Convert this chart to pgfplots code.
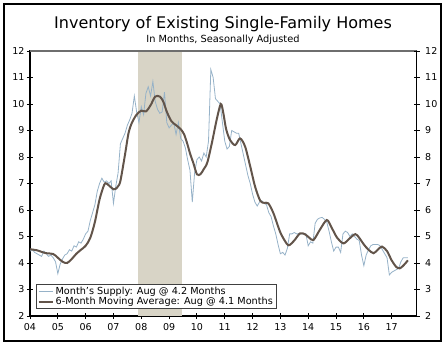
\documentclass[border=0pt]{standalone}
\usepackage{fontspec}
\setmainfont{DejaVu Sans}
\usepackage{pgfplots}
\usepackage{pgfplotstable}
\pgfplotsset{compat=1.18}
\definecolor{supply}{RGB}{150,178,200}
\definecolor{mavg}{RGB}{98,84,74}
\definecolor{recess}{RGB}{216,212,198}
\definecolor{topline}{RGB}{110,110,110}

\pgfplotstableread{
m v
0 4.45
1 4.5
2 4.4
3 4.35
4 4.3
5 4.25
6 4.45
7 4.35
8 4.25
9 4.3
10 4.2
11 4.05
12 3.6
13 3.95
14 4.15
15 4.3
16 4.35
17 4.5
18 4.45
19 4.65
20 4.6
21 4.8
22 4.75
23 4.9
24 5.1
25 5.2
26 5.6
27 5.9
28 6.2
29 6.7
30 7.0
31 7.2
32 7.05
33 7.1
34 7.0
35 7.1
36 6.25
37 6.9
38 7.4
39 8.5
40 8.7
41 8.9
42 9.2
43 9.4
44 9.65
45 10.3
46 9.7
47 9.3
48 9.9
49 9.6
50 10.4
51 10.65
52 10.3
53 10.85
54 10.1
55 9.8
56 9.65
57 9.7
58 10.45
59 9.3
60 9.1
61 9.2
62 9.3
63 8.85
64 9.3
65 8.7
66 8.6
67 8.35
68 7.9
69 7.5
70 6.3
71 7.4
72 7.9
73 8.0
74 7.85
75 8.15
76 8.0
77 8.6
78 11.3
79 11.0
80 10.2
81 10.1
82 10.0
83 9.3
84 8.6
85 8.3
86 8.4
87 9.0
88 8.95
89 8.9
90 8.9
91 8.5
92 8.1
93 7.7
94 7.3
95 7.0
96 6.6
97 6.3
98 6.15
99 6.3
100 6.35
101 6.25
102 6.2
103 5.9
104 5.75
105 5.4
106 5.1
107 4.7
108 4.35
109 4.4
110 4.3
111 4.55
112 5.1
113 5.1
114 5.15
115 5.1
116 5.1
117 5.1
118 5.1
119 5.1
120 4.65
121 4.8
122 4.75
123 5.5
124 5.65
125 5.7
126 5.72
127 5.65
128 5.55
129 5.2
130 4.8
131 4.45
132 4.6
133 4.6
134 4.4
135 5.1
136 5.2
137 5.15
138 5.0
139 5.1
140 5.0
141 4.9
142 4.85
143 4.3
144 3.9
145 4.3
146 4.5
147 4.65
148 4.7
149 4.7
150 4.7
151 4.65
152 4.5
153 4.35
154 4.2
155 3.55
156 3.65
157 3.7
158 3.75
159 3.8
160 4.05
161 4.2
162 4.2
163 4.2
}\supplytab

\pgfplotstableread{
m v
0 4.52
3 4.48
5 4.42
7 4.37
10 4.34
12 4.2
14 4.05
16 4.0
18 4.15
20 4.35
22 4.5
24 4.65
26 4.95
28 5.55
30 6.4
32 6.95
33 7.0
35 6.85
36 6.78
37 6.8
38 6.9
39 7.1
41 8.1
42.5 8.9
44 9.3
46 9.6
48 9.75
50 9.72
52 9.95
54 10.28
56 10.28
57.5 10.09
59 9.71
61 9.35
63 9.2
65 9.05
66.5 8.85
68 8.45
69 8.14
70.5 7.76
72 7.35
73.5 7.35
75 7.55
76.5 7.8
78.5 8.55
80.5 9.4
82.3 10.0
83.4 9.65
84.6 9.05
86.3 8.64
88.5 8.45
90.6 8.7
92.8 8.39
95 7.64
97.1 6.88
99.3 6.35
101 6.27
102.8 6.25
105 5.88
108 5.15
110.8 4.72
112 4.68
114 4.85
116.5 5.12
118.7 5.08
120.5 4.95
122.3 4.87
125 5.25
128 5.62
130 5.35
132.5 4.95
135.2 4.74
137.5 4.9
140.3 5.09
142 4.95
144 4.7
146 4.5
148.2 4.37
150 4.5
151.8 4.62
154 4.45
156 4.1
158 3.85
159.5 3.8
161 3.9
163 4.1
}\mavgtab

\begin{document}
\begin{tikzpicture}[x=1pt,y=1pt]
\path[use as bounding box] (0,0) rectangle (446,343);
\draw[black, line width=2.3pt] (4,2.3) rectangle (441,339);
\node[anchor=base, font=\fontsize{16}{18}\selectfont] at (223,314.2) {Inventory of Existing Single-Family Homes};
\node[anchor=base, font=\fontsize{9.8}{11}\selectfont] at (223,300.7) {In Months, Seasonally Adjusted};

\pgfplotsset{myaxis/.style={
  at={(30pt,27pt)}, anchor=south west, scale only axis,
  width=386.7pt, height=265pt,
  xmin=0, xmax=166.8, ymin=2, ymax=12,
  ytick={2,3,...,12},
  tick align=center, major tick length=6pt,
  every tick/.style={black, line width=0.9pt},
  axis line style={black, line width=1.1pt},
  ticklabel style={font=\fontsize{9.5}{10}\selectfont, black},
  /pgf/number format/assume math mode=true,
}}

\begin{axis}[myaxis,
  xtick={0,12,...,156},
  xticklabels={04,05,06,07,08,09,10,11,12,13,14,15,16,17},
  xtick pos=left, ytick pos=left,
  yticklabel style={xshift=1pt},
  xticklabel style={yshift=-1pt},
  legend style={at={(axis description cs:0.0147,0.0253)}, anchor=south west,
    draw=black!75, line width=0.8pt, fill=white,
    inner xsep=1.5pt, inner ysep=0.5pt, row sep=-2.2pt,
    font=\fontsize{9.7}{10}\selectfont,
    cells={anchor=west}},
  legend image code/.code={\draw[#1] (0pt,0pt) -- (14pt,0pt);},
]
\fill[recess] (axis cs:46.7,2) rectangle (axis cs:65.5,12);
\addplot[supply, line width=0.8pt] table[x=m, y=v] {\supplytab};
\addlegendentry{Month's Supply: Aug @ 4.2 Months}
\addplot[mavg, line width=2pt, smooth] table[x=m, y=v] {\mavgtab};
\addlegendentry{6-Month Moving Average: Aug @ 4.1 Months}
\draw[topline, line width=1.1pt] (axis cs:0,12) -- (axis cs:166.8,12);
\end{axis}

\begin{axis}[myaxis,
  axis x line=none, axis y line*=right,
  ytick pos=right, yticklabel pos=right,
  yticklabel style={xshift=2pt},
]
\end{axis}
\end{tikzpicture}
\end{document}
